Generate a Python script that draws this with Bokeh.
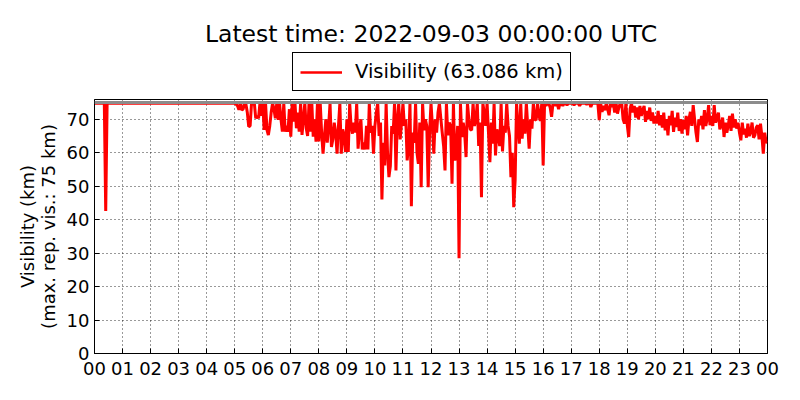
from bokeh.plotting import figure
from bokeh.layouts import column
from bokeh.models import (Range1d, FixedTicker, Legend, LegendItem, Label, LinearAxis,
                          ColumnDataSource, Span)
from bokeh.embed import file_html
from bokeh.resources import INLINE

TITLE = "Latest time: 2022-09-03 00:00:00 UTC"
Y_LABEL_1 = "Visibility (km)"
Y_LABEL_2 = "(max. rep. vis.: 75 km)"
TICK_LABELS = ["00", "01", "02", "03", "04", "05", "06", "07", "08", "09", "10", "11",
               "12", "13", "14", "15", "16", "17", "18", "19", "20", "21", "22", "23", "00"]
Y_TICKS = [0, 10, 20, 30, 40, 50, 60, 70]
MAX_REP_VIS = 75
LAST_VALUE = 63.086
STEP_MIN = 3  # sampling interval of the series, minutes

T = 74.8
VIS = [
    # 00
    T, T, T, T, T, T, T, T, 42.6, T, T, T, T, T, T, T, T, T, T, T,
    # 01
    T, T, T, T, T, T, T, T, T, T, T, T, T, T, T, T, T, T, T, T,
    # 02
    T, T, T, T, T, T, T, T, T, T, T, T, T, T, T, T, T, T, T, T,
    # 03
    T, T, T, T, T, T, T, T, T, T, T, T, T, T, T, T, T, T, T, T,
    # 04
    T, T, T, T, T, T, T, T, T, T, T, T, T, T, T, T, T, T, T, T,
    # 05
    T, 74.5, 74, 72.8, T, 72.8, 73, T, 74.5, 72, 67.8, 68, T, 74.5, T, 70.3, 71, 70.3, T, 71,
    # 06
    T, 66.8, T, 66.8, 65.3, 68, 72, T, 73, 70.3, T, 69.8, T, 70, 66.3, T, 66.3, 68, 66.3, 73,
    # 07
    64.8, T, 69.3, T, 67.3, 72, 66.3, T, 65.3, 70, T, 67.3, 65, T, 66.3, T, 64.8, 70, 63.3, T,
    # 08
    63.4, T, 66, 59.7, 65, 70, 63, 68, T, 61.7, 64, 69, 66, 59.7, 68, T, 59.7, 67, 65.2, 60.2,
    # 09
    70, 60.2, T, 68, 65.7, 69, 66, T, 61.2, 67, 70, 61, 63, 61, 68, 61, T, 66, 68, 59.7,
    # 10
    68, 72, T, 65, 69, 46, 63, 56.2, T, 60, 52.7, 56, 68, 65.7, T, 54.7, 70, T, 64, 69,
    # 11
    T, 68, 70, 57.7, 62, T, 44, 66, 63, T, 60, 56.7, 69, 49.7, T, 66.7, 70, 68, 49.7, 66,
    # 12
    T, 68, 59.7, 70, 66, 72, T, 70.3, 66, 62, 54.7, T, 65.2, 69, 68, 50.7, T, 57.7, 60.2, 68,
    # 13
    28.5, T, 64.7, 69, 66, 58.7, T, 70, 67, 66.7, T, 68, 70, T, 62, 69, 46.7, T, 71.7, 68,
    # 14
    T, 66, 57.2, 69, 62.7, T, 59.2, 67, 65, 62, T, 60.4, 68, 66, T, 68, 65, 52.7, 60, 43.7,
    # 15
    51.7, T, 68, 62.7, T, 64.2, 70, 65.7, T, 68, 61.2, 70, 67.2, T, 70, 69.7, T, 71, 69.5, T,
    # 16
    56.2, T, 74, T, T, 73.5, 70.7, T, T, 74, T, 73, T, T, 74, T, T, 74.2, T, T,
    # 17
    T, T, 74.2, T, T, T, 74, T, T, T, T, 74.5, T, T, 73.7, T, T, T, T, T,
    # 18
    69.7, T, 72.2, 74, 72.7, T, 73, 71.2, T, 73.7, T, 72, T, 71.7, 73.5, T, T, 70, 68.7, T,
    # 19
    68.2, 64.7, 73, T, 72, 74, 70.5, 73.5, 70, 74, 71, 72.7, 74, 69.2, 72.5, 70, 73.5, 69.5, 72, 68.7,
    # 20
    71, 68.7, 72.5, 68.2, 71.2, 67.5, 72, 66.7, 70, 65.2, 71, 68.2, 72.5, 66.2, 70.5, 67.7, 72, 66.5, 70, 65.7,
    # 21
    69.7, 67, 71, 65.2, 70, 72.2, 68, 74.2, 70, 66, 63.2, 70, 68.2, 71, 67, 72.7, 68, 70.2, 74.2, 68.2,
    # 22
    71, 68, 74.2, 69, 70.2, 72, 67, 68.2, 70.5, 64.7, 69, 66, 68.2, 71, 66.5, 71.7, 67.5, 70, 67.2, 69,
    # 23
    66, 63.7, 69, 65.5, 67.2, 64.5, 68.7, 65, 66.2, 69, 64.5, 65.2, 67.5, 68.2, 64, 68.7, 65, 59.7, 66, 63.2,
    LAST_VALUE,
]
HOURS = [i * STEP_MIN / 60.0 for i in range(len(VIS))]

FONT = "DejaVu Sans"
RED = "#ff0000"
W = 784
TOP_H = 97
MAIN_H = 384 - TOP_H
BORDER_L, BORDER_R = 94, 17
FRAME_W = W - BORDER_L - BORDER_R

src = ColumnDataSource(dict(x=HOURS, y=VIS))

# ---------------- header: title + legend (frame aligned with the main frame) ----------------
head = figure(width=W, height=TOP_H, output_backend="svg", toolbar_location=None,
              x_range=Range1d(0, FRAME_W), y_range=Range1d(0, TOP_H),
              x_axis_location=None, y_axis_location=None,
              min_border_left=BORDER_L, min_border_right=BORDER_R,
              min_border_top=0, min_border_bottom=0,
              background_fill_color="white", border_fill_color="white")
head.outline_line_color = None
head.xgrid.visible = False
head.ygrid.visible = False
head.add_layout(Label(x=FRAME_W / 2, y=64, text=TITLE, text_align="center", text_baseline="middle",
                      text_font=FONT, text_font_size="23.5px", text_color="black"))
# the same series on an off-screen range, only to give the legend its red line glyph
head.extra_y_ranges = {"off": Range1d(1000, 2000)}
hr = head.line("x", "y", source=src, line_color=RED, line_width=2.5, y_range_name="off")
legend = Legend(items=[LegendItem(label="Visibility (%.3f km)" % LAST_VALUE, renderers=[hr])],
                location=(198, 6), orientation="vertical",
                label_text_font=FONT, label_text_font_size="19.5px", label_text_color="black",
                glyph_width=42, glyph_height=20, label_height=20, label_standoff=13,
                padding=7, margin=0, border_line_color="black", border_line_width=1,
                border_line_alpha=1.0, background_fill_color="white", background_fill_alpha=1.0)
head.add_layout(legend, "center")

# ---------------- main plot ----------------
p = figure(width=W, height=MAIN_H, output_backend="svg", toolbar_location=None,
           x_range=Range1d(0, 24), y_range=Range1d(0, 75.9),
           min_border_left=BORDER_L, min_border_right=BORDER_R, min_border_top=2, min_border_bottom=31,
           background_fill_color="white", border_fill_color="white")
p.outline_line_color = "black"
p.outline_line_width = 1

p.add_layout(Span(location=MAX_REP_VIS, dimension="width", line_color="#8c8c8c", line_width=3))
r = p.line("x", "y", source=src, line_color=RED, line_width=3)

xt = FixedTicker(ticks=list(range(len(TICK_LABELS))))
yt = FixedTicker(ticks=Y_TICKS)
overrides = {i: lab for i, lab in enumerate(TICK_LABELS)}

for ax in p.xaxis:
    ax.ticker = xt
    ax.major_label_overrides = overrides
for ax in p.yaxis:
    ax.ticker = yt
    ax.axis_label = Y_LABEL_2

for ax in list(p.xaxis) + list(p.yaxis):
    ax.major_tick_in = 5
    ax.major_tick_out = 0
    ax.minor_tick_in = 0
    ax.minor_tick_out = 0
    ax.major_label_text_font = FONT
    ax.major_label_text_font_size = "18px"
    ax.major_label_text_color = "black"
    ax.axis_line_color = "black"
    ax.major_tick_line_color = "black"
    ax.major_label_standoff = 5
p.xaxis.major_label_standoff = 8
p.yaxis.axis_label_text_font = FONT
p.yaxis.axis_label_text_font_size = "18px"
p.yaxis.axis_label_text_font_style = "normal"
p.yaxis.axis_label_text_color = "black"
p.yaxis.axis_label_standoff = 5

# outer label line: an axis with no ticks that only carries the first label line
outer = LinearAxis(ticker=FixedTicker(ticks=[]), axis_label=Y_LABEL_1,
                   axis_line_color=None, major_tick_line_color=None, minor_tick_line_color=None,
                   major_tick_in=0, major_tick_out=0, minor_tick_in=0, minor_tick_out=0,
                   major_label_standoff=0, axis_label_standoff=-3,
                   axis_label_text_font=FONT, axis_label_text_font_size="18px",
                   axis_label_text_font_style="normal", axis_label_text_color="black")
p.add_layout(outer, "left")

for g in (p.xgrid, p.ygrid):
    g.grid_line_color = "black"
    g.grid_line_dash = "1 3"
    g.grid_line_width = 1
    g.grid_line_alpha = 0.8
p.xgrid.ticker = xt
p.ygrid.ticker = yt

layout = column(head, p, spacing=0)
open("out.html", "w").write(file_html(layout, INLINE))
